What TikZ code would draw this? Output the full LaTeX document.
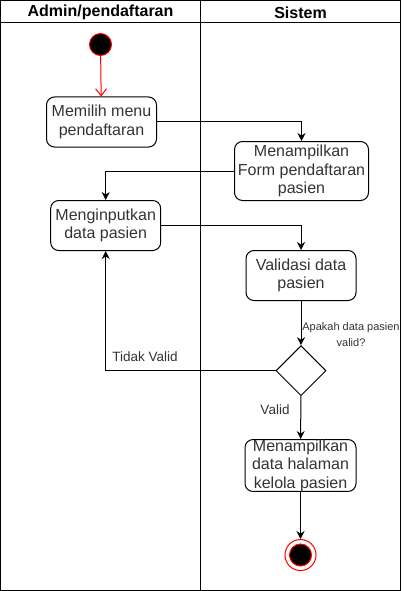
\documentclass[tikz,border=0pt]{standalone}
\usepackage{fontspec}
\setmainfont{Liberation Sans}
\usetikzlibrary{shapes.geometric,arrows.meta}
\definecolor{txt}{HTML}{333333}
\begin{document}
\begin{tikzpicture}[x=1pt,y=-1pt,line width=1pt,
  actbox/.style={draw=black,rounded corners=8pt,align=center,text=txt,
    font=\fontsize{16}{18.5}\selectfont,inner sep=0pt},
  flow/.style={draw=black,-{Stealth[length=8pt,width=8pt]}},
  lbl/.style={text=txt,inner sep=0pt},
  hdr/.style={font=\fontsize{16}{19}\selectfont\bfseries,inner sep=0pt}]
\useasboundingbox (0,0) rectangle (413,591);
% swimlanes
\draw (0.5,0.5) rectangle (400.5,590);
\draw (0.5,23) -- (400.5,23);
\draw (200.5,0.5) -- (200.5,590);
\node[hdr] (h1) at (100.5,12.5) {Admin/pendaftaran};
\node[hdr] (h2) at (300.5,12.5) {Sistem};
% nodes
\node[circle,fill=black,draw=red,minimum size=22pt,inner sep=0pt] (start) at (100.5,44.5) {};
\node[actbox,minimum width=110pt,minimum height=50pt] (n1) at (101.5,122) {Memilih menu\\pendaftaran};
\node[actbox,minimum width=134pt,minimum height=59pt] (n2) at (301.5,171) {Menampilkan\\Form pendaftaran\\pasien};
\node[actbox,minimum width=110pt,minimum height=50pt] (n3) at (105.7,225.5) {Menginputkan\\data pasien};
\node[actbox,minimum width=110pt,minimum height=50pt] (n4) at (301,275.5) {Validasi data\\pasien};
\node[diamond,draw=black,minimum width=50pt,minimum height=50pt,inner sep=0pt] (dec) at (301,370.7) {};
\node[actbox,minimum width=111pt,minimum height=50pt] (n5) at (300.5,465.5) {Menampilkan\\data halaman\\kelola pasien};
\node[circle,draw=red,fill=white,minimum size=31pt,inner sep=0pt] (end) at (300.5,555) {};
\node[circle,draw=red,fill=black,minimum size=22pt,inner sep=0pt] (endin) at (end) {};
% connectors
\draw[red,-{Straight Barb[length=7pt,width=11pt]}] (start) -- (n1);
\draw[flow] (n1.east) -| (n2.north);
\draw[flow] (n2.west) -| (n3.north);
\draw[flow] (n3.east) -| (n4.north);
\draw[flow] (n4) -- (dec);
\draw[flow] (dec.west) -| (n3.south);
\draw[flow] (dec) -- (n5);
\draw[flow] (n5) -- (end);
% labels
\node[lbl,align=center,font=\fontsize{11}{16}\selectfont] (q) at (351,335) {Apakah data pasien\\valid?};
\node[lbl,font=\fontsize{13.5}{16}\selectfont] (tv) at (145,356.5) {Tidak Valid};
\node[lbl,font=\fontsize{13.5}{16}\selectfont] (v) at (275,410) {Valid};
\end{tikzpicture}
\end{document}
